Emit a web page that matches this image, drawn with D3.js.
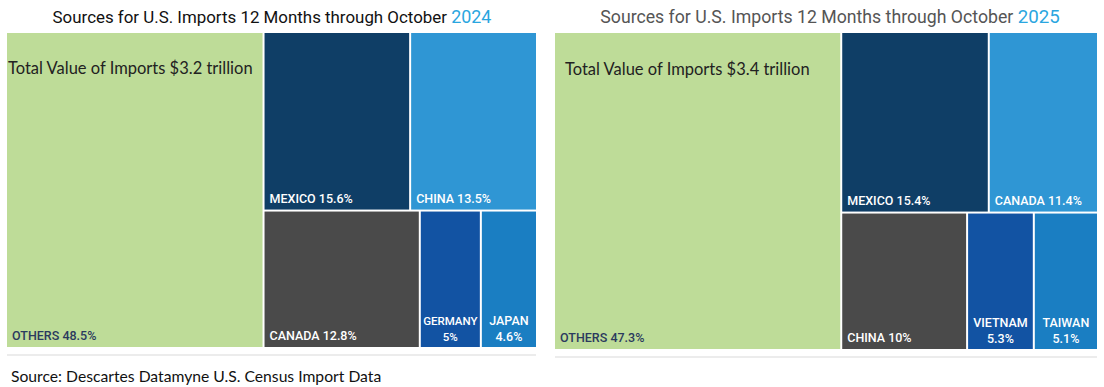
<!DOCTYPE html>
<html><head><meta charset="utf-8">
<script src="https://cdn.jsdelivr.net/npm/d3@7"></script>
<style>body{margin:0;background:#fff}svg{display:block}</style>
</head><body>
<svg id="c" width="1104" height="387"></svg>
<script>
// ---- data ----
const years = ["2024", "2025"];
const totals = ["$3.2 trillion", "$3.4 trillion"];
const countries2024 = ["OTHERS", "MEXICO", "CHINA", "CANADA", "GERMANY", "JAPAN"];
const shares2024 = [48.5, 15.6, 13.5, 12.8, 5, 4.6];
const countries2025 = ["OTHERS", "MEXICO", "CANADA", "CHINA", "VIETNAM", "TAIWAN"];
const shares2025 = [47.3, 15.4, 11.4, 10, 5.3, 5.1];
// grouping of tiles: first column, top row, bottom row
const rowGroups = [[0], [1, 2], [3, 4, 5]];
const sourceText = "Source: Descartes Datamyne U.S. Census Import Data";

// ---- styles ----
const colors2024 = ["#bedc98", "#0f3e66", "#2f96d4", "#4a4a4a", "#1253a3", "#1a7ec2"];
const colors2025 = ["#bedc98", "#0f3e66", "#2f96d4", "#4a4a4a", "#1253a3", "#1a7ec2"];

const svg = d3.select("#c");

const panels = [
  {countries: countries2024, shares: shares2024, colors: colors2024, year: years[0], total: totals[0],
   x: 7, y: 33, w: 529, h: 314, titleX: 272, titleSize: 16.9, titleFill: "#111111", totalDx: 1, totalY: 74, lineY: 355},
  {countries: countries2025, shares: shares2025, colors: colors2025, year: years[1], total: totals[1],
   x: 555, y: 33, w: 542, h: 316, titleX: 830, titleSize: 17.7, titleFill: "#555555", totalDx: 10, totalY: 75, lineY: 357}
];

panels.forEach(p => {
  // area of the "others" tile fills the remainder of 100% of the frame
  const namedSum = d3.sum(p.shares.slice(1));
  const areaVal = p.shares.map((v, i) => i === 0 ? Math.max(v, 100 - namedSum) : v);
  const tree = {name: "root", children: [
    {name: p.countries[0], idx: 0, value: areaVal[0]},
    {name: "rest", children: rowGroups.slice(1).map((g, gi) => ({
      name: "row" + gi,
      children: g.map(i => ({name: p.countries[i], idx: i, value: areaVal[i]}))
    }))}
  ]};
  const root = d3.hierarchy(tree).sum(d => d.value || 0);
  d3.treemap().tile(d3.treemapSliceDice).size([p.w, p.h]).paddingInner(2).round(false)(root);

  const g = svg.append("g").attr("transform", `translate(${p.x},${p.y})`);

  // title
  const t = svg.append("text").attr("x", p.titleX).attr("y", 23)
    .attr("text-anchor", "middle").attr("font-family", "Roboto").attr("font-size", p.titleSize)
    .attr("fill", p.titleFill);
  t.append("tspan").text("Sources for U.S. Imports 12 Months through October ");
  t.append("tspan").attr("fill", "#2aa6df").attr("font-size", p.titleSize + 1).text(p.year);

  // separator line under panel
  svg.append("line").attr("x1", p.x).attr("x2", p.x + p.w).attr("y1", p.lineY).attr("y2", p.lineY)
    .attr("stroke", "#e6e6e6").attr("stroke-width", 1.5);

  const leaves = root.leaves();
  const cells = g.selectAll("g.cell").data(leaves).join("g").attr("class", "cell");
  cells.append("rect")
    .attr("x", d => d.x0).attr("y", d => d.y0)
    .attr("width", d => d.x1 - d.x0).attr("height", d => d.y1 - d.y0)
    .attr("fill", d => p.colors[d.data.idx]);

  cells.each(function(d) {
    const c = d3.select(this);
    const i = d.data.idx;
    const name = p.countries[i];
    const pct = p.shares[i] + "%";
    const w = d.x1 - d.x0;
    const fill = i === 0 ? "#2b3a5e" : "#ffffff";
    if (w > 100) {
      c.append("text").attr("x", d.x0 + 5).attr("y", d.y1 - 7)
        .attr("font-family", "Roboto").attr("font-weight", 500).attr("font-size", 12.5)
        .attr("fill", fill).text(name + " " + pct);
    } else {
      const cx = (d.x0 + d.x1) / 2;
      const nt = c.append("text").attr("x", cx).attr("y", d.y1 - 22).attr("text-anchor", "middle")
        .attr("font-family", "Roboto").attr("font-weight", 500).attr("font-size", 12.5)
        .attr("fill", fill).text(name);
      let fs = 12.5;
      while (nt.node().getComputedTextLength() > w - 4 && fs > 8) {
        fs -= 0.5; nt.attr("font-size", fs);
      }
      c.append("text").attr("x", cx).attr("y", d.y1 - 6).attr("text-anchor", "middle")
        .attr("font-family", "Roboto").attr("font-weight", 500).attr("font-size", Math.max(fs, 11))
        .attr("fill", fill).text(pct);
    }
  });

  // total value text in the others tile
  const o = leaves.find(d => d.data.idx === 0);
  g.append("text").attr("x", o.x0 + p.totalDx).attr("y", p.totalY - p.y)
    .attr("font-family", "Lato").attr("font-size", 16.5).attr("fill", "#222")
    .text("Total Value of Imports " + p.total);
});

svg.append("text").attr("x", 11).attr("y", 382)
  .attr("font-family", "Lato").attr("font-size", 15.7).attr("fill", "#111")
  .text(sourceText);
</script>
</body></html>
